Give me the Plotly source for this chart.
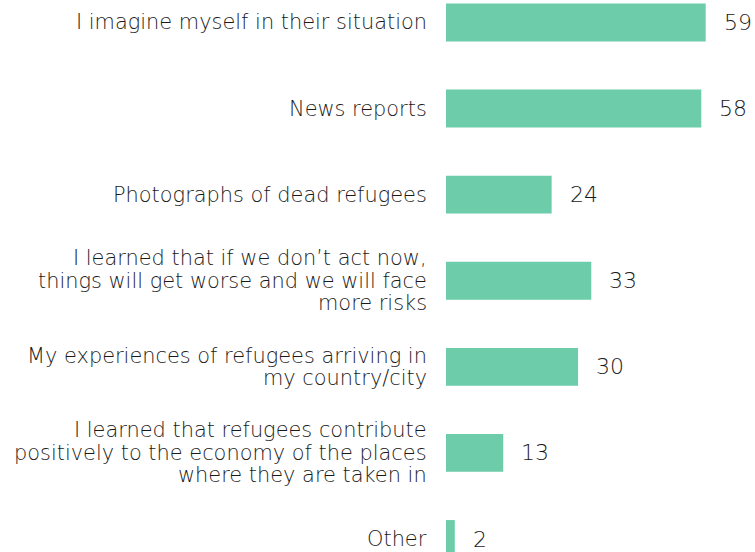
import plotly.graph_objects as go

categories = [
    "I imagine myself in their situation",
    "News reports",
    "Photographs of dead refugees",
    "I learned that if we don’t act now,<br>things will get worse and we will face<br>more risks",
    "My experiences of refugees arriving in<br>my country/city",
    "I learned that refugees contribute<br>positively to the economy of the places<br>where they are taken in",
    "Other",
]
values = [59, 58, 24, 33, 30, 13, 2]

BAR_COLOR = "#6dcca9"
TEXT_COLOR = "#1a1a1a"
FONT = "DejaVu Sans"
LABEL_SIZE = 20.9
LINE_STEP = 22.5  # px between label lines

fig = go.Figure(
    go.Bar(
        x=values,
        y=list(range(len(categories))),
        orientation="h",
        width=0.44,
        marker=dict(color=BAR_COLOR, line=dict(width=0)),
        hoverinfo="skip",
    )
)

# category labels, one annotation per line for tight line spacing
for i, label in enumerate(categories):
    lines = label.split("<br>")
    n = len(lines)
    for k, line in enumerate(lines):
        fig.add_annotation(
            xref="paper", x=0, y=i, text=line, showarrow=False,
            xanchor="right", yanchor="middle", xshift=-17,
            yshift=((n - 1) / 2 - k) * LINE_STEP,
            font=dict(family=FONT, size=LABEL_SIZE, color=TEXT_COLOR, weight=300),
        )

# value labels to the right of each bar
for i, v in enumerate(values):
    fig.add_annotation(
        x=v, y=i, text=str(v), showarrow=False,
        xanchor="left", yanchor="middle", xshift=16,
        font=dict(family=FONT, size=22, color=TEXT_COLOR, weight=300),
    )

fig.update_layout(
    width=755, height=552,
    margin=dict(l=446, r=0, t=0, b=0),
    paper_bgcolor="white", plot_bgcolor="white",
    showlegend=False,
)
fig.update_xaxes(range=[0, 70.2], visible=False, showgrid=False, zeroline=False)
fig.update_yaxes(
    range=[6.151, -0.261],
    showgrid=False, zeroline=False, showline=False,
    showticklabels=False, ticks="",
)

fig.write_html("out.html")
